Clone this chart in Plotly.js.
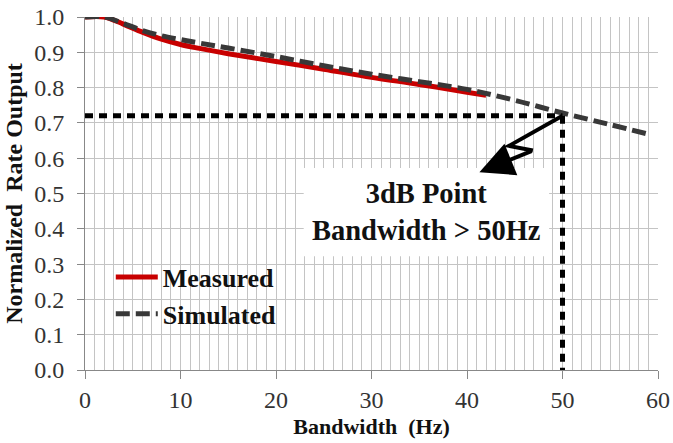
<!DOCTYPE html>
<html>
<head>
<meta charset="utf-8">
<script src="https://cdn.plot.ly/plotly-3.0.1.min.js"></script>
<style>html,body{margin:0;padding:0;background:#fff;}#chart{width:673px;height:443px;}</style>
</head>
<body>
<div id="chart"></div>
<script>
// Data
const simX = [0, 2, 4, 6, 8, 10, 12, 15, 20, 25, 30, 35, 40, 45, 50, 55, 59];
const simY = [1.0, 1.0, 0.982, 0.962, 0.947, 0.936, 0.926, 0.912, 0.888, 0.862, 0.838, 0.817, 0.795, 0.764, 0.728, 0.695, 0.668];
const measX = [0, 2, 4, 6, 8, 10, 12, 15, 20, 25, 30, 35, 40, 42];
const measY = [1.0, 1.0, 0.98, 0.957, 0.937, 0.922, 0.911, 0.896, 0.874, 0.852, 0.829, 0.809, 0.787, 0.778];
const seriesNames = ['Measured', 'Simulated'];
const xTickVals = [0, 10, 20, 30, 40, 50, 60];
const yTickVals = [0, 0.1, 0.2, 0.3, 0.4, 0.5, 0.6, 0.7, 0.8, 0.9, 1.0];
const cutoffLevel = 0.72;
const cutoffFreq = 50;
const noteLines = ['3dB Point', 'Bandwidth > 50Hz'];
// annotation geometry (data units)
const boltPath = [[50, 0.72], [44.4, 0.635], [46.9, 0.622]];
const arrowTip = [41.3, 0.56];
const noteBox = [22.9, 48.6, 0.322, 0.572];

const serif = 'Liberation Serif, Times New Roman, serif';

const traces = [
  {x: measX, y: measY, name: seriesNames[0], mode: 'lines', type: 'scatter',
   line: {color: '#c80000', width: 5, shape: 'spline'}},
  {x: simX, y: simY, name: seriesNames[1], mode: 'lines', type: 'scatter',
   line: {color: '#383838', width: 5, dash: '14px,6px', shape: 'spline'}}
];

const pathStr = 'M ' + boltPath.map(p => p[0] + ',' + p[1]).join(' L ');

const layout = {
  width: 673, height: 443,
  margin: {l: 85, r: 15, t: 17, b: 73},
  paper_bgcolor: '#fff', plot_bgcolor: '#fff',
  showlegend: true,
  legend: {x: 0.045, y: 0.33, xanchor: 'left', yanchor: 'top', bgcolor: 'rgba(0,0,0,0)',
           itemwidth: 42,
           font: {family: serif, size: 26, color: '#111', weight: 'bold'}, tracegroupgap: 0},
  xaxis: {range: [0, 60], tickvals: xTickVals, ticks: 'outside', ticklen: 8, tickcolor: '#888',
          showline: true, linecolor: '#888', linewidth: 1, zeroline: false,
          showgrid: true, gridcolor: '#c4c4c4', gridwidth: 1,
          minor: {dtick: 1, showgrid: true, gridcolor: '#c4c4c4', gridwidth: 1, ticks: ''},
          tickfont: {family: serif, size: 24, color: '#333'},
          title: {text: 'Bandwidth  (Hz)', font: {family: serif, size: 22, color: '#111', weight: 'bold'}, standoff: 6}},
  yaxis: {range: [0, 1.0], tickvals: yTickVals, tickformat: '.1f', ticks: 'outside', ticklen: 7, tickcolor: '#888',
          showline: true, linecolor: '#888', linewidth: 1, zeroline: false,
          showgrid: true, gridcolor: '#c4c4c4', gridwidth: 1, ticklabelstandoff: 8,
          tickfont: {family: serif, size: 24, color: '#333'},
          title: {text: 'Normalized  Rate Output', font: {family: serif, size: 24, color: '#111', weight: 'bold'}, standoff: 4}},
  shapes: [
    {type: 'rect', xref: 'x', yref: 'y', x0: noteBox[0], x1: noteBox[1], y0: noteBox[2], y1: noteBox[3],
     fillcolor: '#fff', line: {width: 0}, layer: 'between'},
    {type: 'line', xref: 'x', yref: 'y', x0: 0, x1: cutoffFreq, y0: cutoffLevel, y1: cutoffLevel,
     line: {color: '#000', width: 5, dash: '8px,6px'}, layer: 'above'},
    {type: 'line', xref: 'x', yref: 'y', x0: cutoffFreq, x1: cutoffFreq, y0: cutoffLevel, y1: 0,
     line: {color: '#000', width: 5, dash: '8px,6px'}, layer: 'above'},
    {type: 'path', xref: 'x', yref: 'y', path: pathStr, line: {color: '#000', width: 4}, layer: 'above'}
  ],
  annotations: [
    {x: arrowTip[0], y: arrowTip[1], xref: 'x', yref: 'y', axref: 'x', ayref: 'y',
     ax: boltPath[2][0], ay: boltPath[2][1], text: '', showarrow: true,
     arrowhead: 2, arrowsize: 1.7, arrowwidth: 4, arrowcolor: '#000'},
    {x: (noteBox[0] + noteBox[1]) / 2, y: (noteBox[2] + noteBox[3]) / 2, xref: 'x', yref: 'y',
     text: noteLines.join('<br>'), showarrow: false,
     font: {family: serif, size: 28.5, color: '#111', weight: 'bold'}}
  ]
};

Plotly.newPlot('chart', traces, layout, {displayModeBar: false, staticPlot: true});
</script>
</body>
</html>
